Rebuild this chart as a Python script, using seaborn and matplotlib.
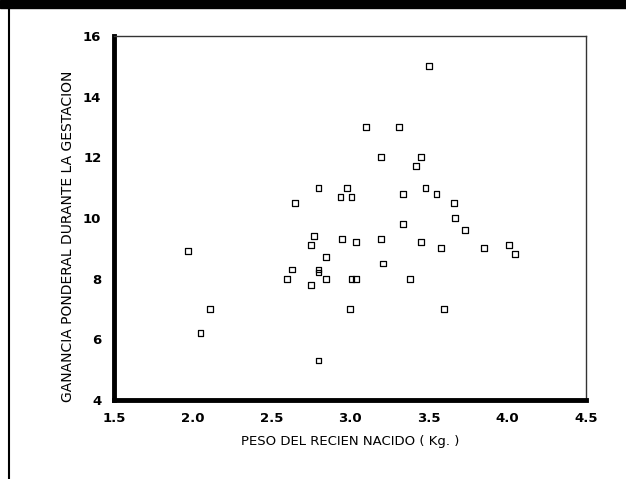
import numpy as np
import pandas as pd
import seaborn as sns
from matplotlib import pyplot as plt
from matplotlib.lines import Line2D
from matplotlib.patches import Rectangle

# peso del recien nacido (kg) - ganancia ponderal (kg)
peso = [1.97, 2.05, 2.11, 2.60, 2.63, 2.65, 2.75, 2.75, 2.77, 2.80, 2.80, 2.80, 2.80,
        2.85, 2.85, 2.94, 2.95, 2.98, 3.00, 3.01, 3.01, 3.04, 3.04, 3.10, 3.20, 3.20,
        3.21, 3.31, 3.34, 3.34, 3.38, 3.42, 3.45, 3.45, 3.48, 3.50, 3.55, 3.58, 3.60,
        3.66, 3.67, 3.73, 3.85, 4.01, 4.05]
ganancia = [8.9, 6.2, 7.0, 8.0, 8.3, 10.5, 9.1, 7.8, 9.4, 11.0, 8.3, 8.2, 5.3,
            8.7, 8.0, 10.7, 9.3, 11.0, 7.0, 10.7, 8.0, 9.2, 8.0, 13.0, 12.0, 9.3,
            8.5, 13.0, 10.8, 9.8, 8.0, 11.7, 12.0, 9.2, 11.0, 15.0, 10.8, 9.0, 7.0,
            10.5, 10.0, 9.6, 9.0, 9.1, 8.8]
xticks = [1.5, 2.0, 2.5, 3.0, 3.5, 4.0, 4.5]
yticks = [4, 6, 8, 10, 12, 14, 16]

df = pd.DataFrame({'peso': peso, 'ganancia': ganancia})

sns.set_style('white')
plt.rcParams['text.color'] = 'black'
plt.rcParams['axes.labelcolor'] = 'black'
plt.rcParams['xtick.color'] = 'black'
plt.rcParams['ytick.color'] = 'black'
fig = plt.figure(figsize=(6.26, 4.79), dpi=100)
ax = fig.add_axes([0.182, 0.165, 0.754, 0.760])

sns.scatterplot(data=df, x='peso', y='ganancia', marker='s', s=18,
                facecolor='none', edgecolor='black', linewidth=0.9, ax=ax)

ax.set_xlim(1.5, 4.5)
ax.set_ylim(4, 16)
ax.set_xticks(xticks)
ax.set_xticklabels(['%.1f' % t for t in xticks])
ax.set_yticks(yticks)
ax.tick_params(axis='both', direction='out', length=3, width=3, color='black',
               labelcolor='black', labelsize=9.5, pad=6)
for lab in ax.get_xticklabels() + ax.get_yticklabels():
    lab.set_fontweight('bold')

for side in ['left', 'bottom']:
    ax.spines[side].set_linewidth(3.5)
    ax.spines[side].set_color('black')
for side in ['top', 'right']:
    ax.spines[side].set_linewidth(1.0)
    ax.spines[side].set_color('#333333')

ax.set_xlabel('PESO DEL RECIEN NACIDO ( Kg. )', fontsize=9.5, color='black')
ax.set_ylabel('GANANCIA PONDERAL DURANTE LA GESTACION', fontsize=10, color='black')
ax.xaxis.set_label_coords(0.5, -0.095)
ax.yaxis.set_label_coords(-0.082, 0.45)

# black band on top and left border of the scanned page
fig.patches.append(Rectangle((0, 1 - 8 / 479), 1, 8 / 479, transform=fig.transFigure,
                             color='black', zorder=10))
fig.lines.append(Line2D([9 / 626, 9 / 626], [0, 1], transform=fig.transFigure,
                        color='black', linewidth=1.5))

fig.savefig('out.png', dpi=100)
